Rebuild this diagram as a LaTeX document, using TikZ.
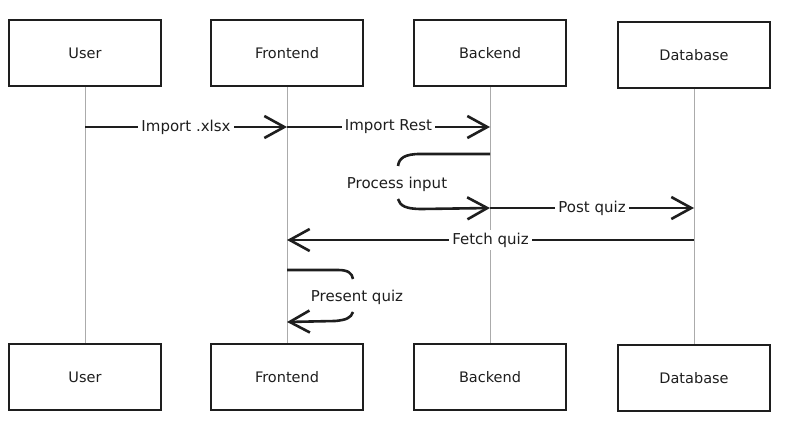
\documentclass[tikz,border=0pt]{standalone}
\usepackage{fontspec}
\setmainfont{DejaVu Sans}
\usetikzlibrary{arrows.meta}
\definecolor{ink}{HTML}{1E1E1E}
\definecolor{life}{HTML}{ABABAB}
\begin{document}
\begin{tikzpicture}[x=1pt,y=-1pt,
  actor/.style={draw=ink,line width=1.9pt,minimum width=152pt,minimum height=66pt,inner sep=0pt,font=\fontsize{14.5}{16}\selectfont,text=ink},
  lifeline/.style={draw=life,line width=0.8pt},
  msg/.style={draw=ink,line width=2.6pt,-{Straight Barb[length=20pt,width=22pt,line width=2.6pt]}},
  lbl/.style={fill=white,inner sep=3pt,font=\fontsize{15}{17}\selectfont,text=ink}]
\useasboundingbox (0,0) rectangle (800,433);
% top boxes
\node[actor] (uT) at (85,53) {User};
\node[actor] (fT) at (287,53) {Frontend};
\node[actor] (bT) at (490,53) {Backend};
\node[actor] (dT) at (694,55) {Database};
% bottom boxes
\node[actor] (uB) at (85,377) {User};
\node[actor] (fB) at (287,377) {Frontend};
\node[actor] (bB) at (490,377) {Backend};
\node[actor] (dB) at (694,378) {Database};
% lifelines
\draw[lifeline] (uT.south) -- (uB.north);
\draw[lifeline] (fT.south) -- (fB.north);
\draw[lifeline] (bT.south) -- (bB.north);
\draw[lifeline] (dT.south) -- (dB.north);
% coordinates on lifelines
\coordinate (u1) at (85,127);
\coordinate (f1) at (287,127);
\coordinate (b1) at (490,127);
\coordinate (b2) at (490,154);
\coordinate (b3) at (490,208);
\coordinate (d3) at (694,208);
\coordinate (d4) at (694,240);
\coordinate (f4) at (287,240);
\coordinate (f5) at (287,270);
\coordinate (f6) at (287,322);
% messages
\draw[msg] (u1) -- node[lbl] {Import .xlsx} (f1);
\draw[msg] (f1) -- node[lbl] {Import Rest} (b1);
\draw[msg] (b3) -- node[lbl] {Post quiz} (d3);
\draw[msg] (d4) -- node[lbl] {Fetch quiz} (f4);
% self loop backend
\node[lbl] (pi) at (397,184) {Process input};
\draw[draw=ink,line width=2.6pt] (b2) -- (420,154) .. controls (405,154) and (399,158) .. (398,166);
\draw[msg] (398,199) .. controls (400,206) and (406,209) .. (422,209) -- (b3);
% self loop frontend
\node[lbl] (pq) at (357,297) {Present quiz};
\draw[draw=ink,line width=2.6pt] (f5) -- (338,270) .. controls (348,270) and (352,273) .. (353,279);
\draw[msg] (353,312) .. controls (351,318) and (346,320) .. (335,321) -- (f6);
\end{tikzpicture}
\end{document}
